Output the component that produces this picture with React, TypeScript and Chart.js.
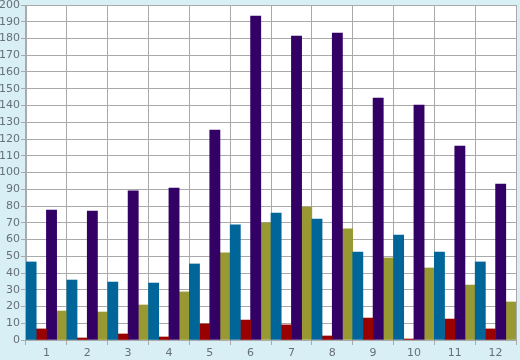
import React, { useEffect, useRef } from "react";
import { Chart, registerables } from "chart.js";

Chart.register(...registerables);

const categories = ["1", "2", "3", "4", "5", "6", "7", "8", "9", "10", "11", "12"];
const blueSeries = [46.6, 35.8, 34.6, 34, 45.4, 68.7, 75.8, 72.2, 52.5, 62.7, 52.5, 46.6];
const redSeries = [6.6, 1.2, 3.6, 1.8, 9.6, 11.9, 9, 2.4, 13.1, 0.6, 12.5, 6.6];
const purpleSeries = [77.6, 77, 89, 90.7, 125.4, 193.4, 181.5, 183.3, 144.5, 140.3, 115.8, 93.1];
const oliveSeries = [17.3, 16.7, 20.9, 28.7, 52, 69.9, 79.4, 66.3, 49, 43, 32.8, 22.7];

const plotBg = {
  id: "plotBg",
  beforeDraw(chart: any) {
    const { ctx, chartArea } = chart;
    ctx.save();
    ctx.fillStyle = "#ffffff";
    ctx.fillRect(chartArea.left, chartArea.top, chartArea.right - chartArea.left, chartArea.bottom - chartArea.top);
    ctx.restore();
  },
};

export default function App() {
  const ref = useRef<HTMLCanvasElement | null>(null);
  useEffect(() => {
    document.body.style.margin = "0";
    const canvas = ref.current!;
    const chart = new Chart(canvas, {
      type: "bar",
      data: {
        labels: categories,
        datasets: [
          { data: blueSeries, backgroundColor: "#006699" },
          { data: redSeries, backgroundColor: "#990000" },
          { data: purpleSeries, backgroundColor: "#330066" },
          { data: oliveSeries, backgroundColor: "#999933" },
        ],
      },
      options: {
        responsive: false,
        animation: false,
        devicePixelRatio: 1,
        layout: { padding: { left: 0, right: 4, top: 5, bottom: 0 } },
        plugins: { legend: { display: false }, tooltip: { enabled: false } },
        datasets: { bar: { barPercentage: 1, categoryPercentage: 1 } },
        scales: {
          x: {
            grid: { color: "#aaaaaa", lineWidth: 1, tickLength: 5, offset: true },
            border: { color: "#aaaaaa" },
            ticks: { color: "#667077", font: { family: "DejaVu Sans", size: 11 }, padding: 2 },
            afterFit(scale: any) {
              scale.height = 20;
              scale.paddingLeft = 0;
              scale.paddingRight = 0;
            },
          },
          y: {
            min: 0,
            max: 200,
            grid: { color: "#aaaaaa", lineWidth: 1, tickLength: 5 },
            border: { color: "#aaaaaa" },
            ticks: { stepSize: 10, color: "#667077", font: { family: "DejaVu Sans", size: 11 }, padding: 1 },
            afterFit(scale: any) {
              scale.width = 26;
              scale.paddingTop = 0;
              scale.paddingBottom = 0;
            },
          },
        },
      },
      plugins: [plotBg],
    });
    return () => chart.destroy();
  }, []);
  return (
    <div style={{ position: "fixed", left: 0, top: 0, width: 520, height: 360, background: "#d9eff6" }}>
      <canvas ref={ref} width={520} height={360} style={{ width: 520, height: 360, display: "block" }} />
    </div>
  );
}
